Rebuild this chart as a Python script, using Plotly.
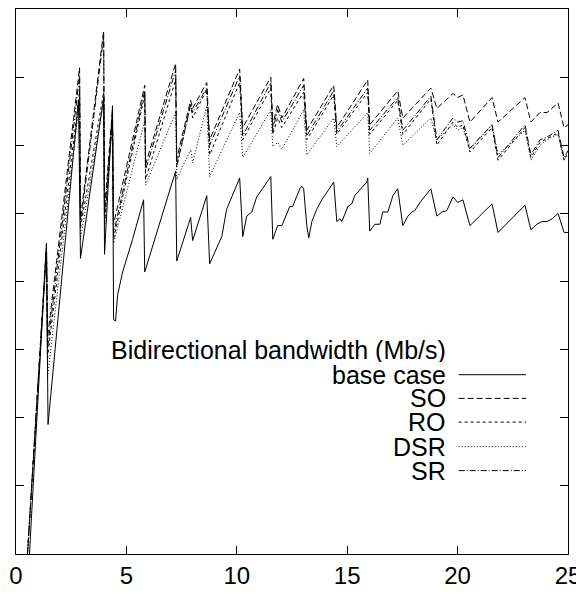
import plotly.graph_objects as go

# time axis for the base case (s) and its bandwidth (Mb/s)
base_x = [0.61, 1.38, 1.45, 2.83, 2.92, 3.97, 4.01, 4.37, 4.42, 4.51, 4.60, 4.83, 5.28, 5.78, 5.83,
          6.32, 7.23, 7.28, 7.91, 8.00, 8.64, 8.77, 9.32, 9.54, 10.13, 10.27, 10.45, 10.68, 10.90,
          11.54, 11.63, 11.85, 12.04, 12.40, 12.53, 12.85, 12.94, 13.03, 13.17, 13.26, 13.40, 13.62,
          13.85, 14.39, 14.53, 14.67, 14.76, 15.03, 15.21, 15.34, 15.66, 15.89, 15.93, 16.02, 16.25,
          16.48, 16.61, 16.84, 17.07, 17.29, 17.52, 17.75, 17.93, 18.06, 18.34, 18.79, 19.06, 19.29,
          19.51, 19.79, 20.01, 20.24, 20.56, 21.56, 21.83, 23.05, 23.32, 23.59, 23.82, 24.05, 24.28,
          24.55, 24.82, 25.0]
base_case = [0, 228, 95, 333, 217, 335, 220, 329, 172, 171, 190, 207, 231, 260, 207,
             233, 281, 215, 247, 230, 263, 213, 233, 253, 276, 233, 248, 251, 262,
             277, 231, 241, 241, 255, 255, 268, 270, 268, 241, 232, 244, 253,
             260, 273, 244, 246, 244, 255, 257, 263, 269, 273, 276, 237, 242,
             242, 251, 251, 263, 268, 241, 248, 251, 252, 259, 268, 248, 251,
             252, 262, 258, 260, 241, 257, 236, 256, 238, 242, 244, 244, 246,
             250, 236, 236]

# time axis shared by the optimised variants
opt_x = [0.52, 1.38, 1.43, 2.88, 2.92, 3.97, 4.01, 4.37, 4.42, 5.83, 5.87, 7.23, 7.28, 7.91, 8.00,
         8.64, 8.77, 10.13, 10.27, 11.54, 11.63, 11.85, 12.04, 13.03, 13.17, 14.39, 14.53, 15.93,
         16.02, 17.29, 17.52, 18.79, 19.06, 19.79, 20.01, 20.24, 20.56, 21.56, 21.83, 23.05, 23.32,
         23.73, 24.05, 24.55, 24.82, 25.0]
so = [0, 224, 159, 357, 246, 384, 253, 326, 242, 344, 286, 360, 290, 333, 327, 346, 304, 356, 313,
      350, 315, 330, 320, 349, 311, 344, 313, 348, 315, 340, 320, 342, 327, 338, 335, 337, 317, 335,
      317, 335, 317, 324, 324, 331, 313, 315]
ro = [0, 224, 144, 340, 239, 339, 242, 322, 231, 337, 275, 348, 284, 330, 320, 341, 293, 346, 304,
      342, 308, 320, 313, 339, 304, 337, 308, 339, 308, 333, 308, 334, 300, 317, 313, 315, 295, 313,
      289, 313, 291, 302, 305, 309, 289, 295]
dsr = [0, 220, 130, 333, 231, 333, 238, 318, 228, 318, 271, 324, 275, 297, 287, 329, 277, 324, 291,
       326, 299, 302, 297, 326, 293, 320, 299, 324, 294, 320, 300, 320, 304, 315, 311, 313, 297, 315,
       293, 311, 289, 300, 304, 308, 289, 293]
sr = [0, 228, 151, 351, 242, 380, 250, 318, 235, 340, 282, 355, 285, 330, 324, 342, 300, 351, 307,
      346, 311, 326, 317, 344, 307, 340, 310, 342, 311, 335, 311, 336, 304, 320, 317, 318, 298, 315,
      291, 315, 293, 304, 306, 311, 291, 296]

x_ticks = [0, 5, 10, 15, 20, 25]
legend_title = "Bidirectional bandwidth (Mb/s)"

series = [
    ("base case", base_x, base_case, "solid"),
    ("SO", opt_x, so, "6px,3px"),
    ("RO", opt_x, ro, "3px,3px"),
    ("DSR", opt_x, dsr, "1px,2px"),
    ("SR", opt_x, sr, "6px,2px,1px,2px"),
]

FONT = "Liberation Sans, Arial, sans-serif"
FS = 25

fig = go.Figure()
for name, xs, ys, dash in series:
    fig.add_trace(go.Scatter(
        x=xs, y=ys, mode="lines", name=name,
        line=dict(color="black", width=1, dash=dash),
        showlegend=False,
    ))

# gnuplot-style key: right aligned text followed by a line sample
text_x = 0.782
sample_x0, sample_x1 = 0.802, 0.924
fig.add_annotation(text=legend_title, xref="paper", yref="paper", x=text_x, y=0.3745,
                   xanchor="right", yanchor="middle", showarrow=False, height=24,
                   font=dict(family=FONT, size=FS, color="black"))
row_y = [0.329, 0.2855, 0.242, 0.197, 0.153]
for (name, _, _, dash), yy in zip(series, row_y):
    fig.add_annotation(text=name, xref="paper", yref="paper", x=text_x, y=yy,
                       xanchor="right", yanchor="middle", showarrow=False, height=24,
                       font=dict(family=FONT, size=FS, color="black"))
    fig.add_shape(type="line", xref="paper", yref="paper",
                  x0=sample_x0, x1=sample_x1, y0=yy, y1=yy,
                  line=dict(color="black", width=1, dash=dash))

# the page body adds an 8px margin, so the figure is sized to stay inside the window
fig.update_layout(
    width=576, height=581,
    margin=dict(l=8, r=16, t=0, b=31),
    paper_bgcolor="white",
    plot_bgcolor="white",
    font=dict(family=FONT, size=FS, color="black"),
)

fig.update_xaxes(
    range=[0, 25], tickvals=x_ticks, ticktext=[str(t) for t in x_ticks],
    ticks="inside", ticklen=8, tickcolor="black",
    showline=True, linecolor="black", linewidth=1, mirror="allticks",
    showgrid=False, zeroline=False, ticklabeloverflow="allow",
    tickfont=dict(family=FONT, size=24, color="black"),
)
fig.update_yaxes(
    range=[0, 400], dtick=50, showticklabels=False,
    ticks="inside", ticklen=8, tickcolor="black",
    showline=True, linecolor="black", linewidth=1, mirror="allticks",
    showgrid=False, zeroline=False,
)

fig.write_html("out.html")
